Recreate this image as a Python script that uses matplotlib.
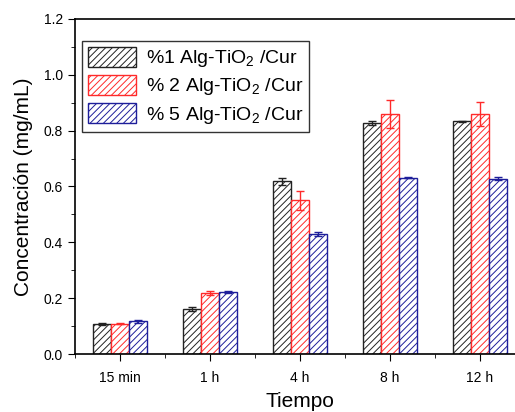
import numpy as np
import matplotlib
matplotlib.use('Agg')
import matplotlib.pyplot as plt
from matplotlib.ticker import MultipleLocator

categories = ['15 min', '1 h', '4 h', '8 h', '12 h']
labels = ['%1 Alg-TiO$_2$ /Cur', '% 2 Alg-TiO$_2$ /Cur', '% 5 Alg-TiO$_2$ /Cur']

alg1 = [0.107, 0.161, 0.618, 0.827, 0.833]
alg2 = [0.109, 0.217, 0.551, 0.861, 0.859]
alg5 = [0.117, 0.223, 0.430, 0.632, 0.628]

err1 = [0.003, 0.007, 0.014, 0.006, 0.002]
err2 = [0.002, 0.007, 0.034, 0.050, 0.044]
err5 = [0.006, 0.004, 0.008, 0.003, 0.005]

colors = ['#222222', '#ff2a2a', '#1e1e9a']

plt.rcParams['font.family'] = ['Liberation Sans', 'DejaVu Sans']
plt.rcParams['hatch.linewidth'] = 0.7
plt.rcParams['mathtext.fontset'] = 'custom'
plt.rcParams['mathtext.rm'] = 'Liberation Sans'

fig = plt.figure(figsize=(5.15, 4.12), dpi=100)
ax = fig.add_axes([75/515, 1-354/412, 450/515, 335/412])

x = np.arange(len(categories))
w = 0.2
for i, (vals, errs) in enumerate([(alg1, err1), (alg2, err2), (alg5, err5)]):
    ax.bar(x + (i-1)*w, vals, w, yerr=errs, facecolor='white', edgecolor=colors[i],
           hatch='/////', linewidth=1.0, label=labels[i],
           error_kw=dict(ecolor=colors[i], elinewidth=1.0, capsize=3, capthick=1.0))

ax.set_xlim(-0.5, 4.5)
ax.set_ylim(0, 1.2)
ax.set_xticks(x)
ax.set_xticklabels(categories)
ax.xaxis.set_minor_locator(MultipleLocator(0.5))
ax.yaxis.set_major_locator(MultipleLocator(0.2))
ax.yaxis.set_minor_locator(MultipleLocator(0.1))
ax.yaxis.set_major_formatter(matplotlib.ticker.FormatStrFormatter('%.1f'))
ax.tick_params(axis='both', which='major', direction='out', length=5, labelsize=10)
ax.tick_params(axis='both', which='minor', direction='out', length=3)
ax.tick_params(axis='x', which='major', pad=7)
for s in ax.spines.values():
    s.set_linewidth(1.2)

ax.set_xlabel('Tiempo', fontsize=15, labelpad=5)
ax.set_ylabel('Concentración (mg/mL)', fontsize=15, labelpad=8)

leg = ax.legend(loc='upper left', bbox_to_anchor=(0.015, 0.935), fontsize=14,
                frameon=True, fancybox=False, edgecolor='black', handlelength=2.5,
                handleheight=1.2, borderpad=0.3, labelspacing=0.3, handletextpad=0.5,
                borderaxespad=0)
leg.get_frame().set_linewidth(1.0)

fig.savefig('out.png', dpi=100)
